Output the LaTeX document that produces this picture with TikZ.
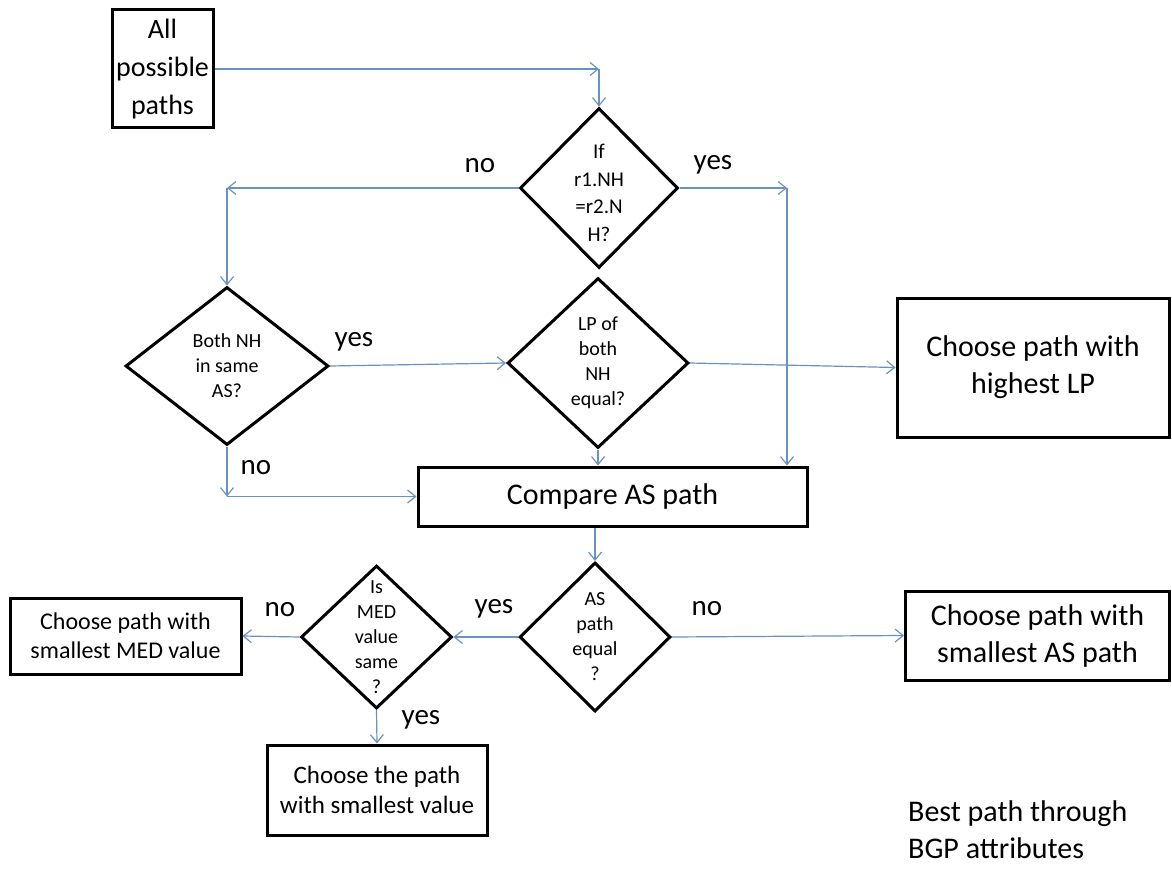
\documentclass[tikz,border=0pt]{standalone}
\usepackage{fontspec}
\setmainfont{Carlito}
\usetikzlibrary{shapes.geometric,arrows.meta}
\definecolor{conn}{RGB}{104,146,192}
\newcommand{\fsz}[2]{\fontsize{#1}{#2}\selectfont}

\begin{document}
\begin{tikzpicture}[x=1pt,y=-1pt,
  box/.style={draw=black, line width=3pt, rectangle, inner sep=0pt, align=center},
  dec/.style={draw=black, line width=3pt, diamond, inner sep=0pt},
  dectext/.style={font=\fsz{20}{25}, align=center},
  arr/.style={draw=conn, line width=1.2pt, -{Straight Barb[length=8pt,width=13pt]}},
  lbl/.style={font=\fsz{29}{35}},
]
\useasboundingbox (0,0) rectangle (1172,869);

% process boxes
\node[box, minimum width=101pt, minimum height=118pt, font=\fsz{28}{38}] (all) at (162.5,69) {All\\possible\\paths};
\node[box, minimum width=389pt, minimum height=59pt, font=\fsz{30}{36}] (cmp) at (612.5,496.5) {Compare AS path};
\node[box, minimum width=272pt, minimum height=139pt, font=\fsz{30}{37}] (hlp) at (1033,367.5) {Choose path with\\highest LP};
\node[box, minimum width=231pt, minimum height=76pt, font=\fsz{24}{29}] (med) at (125.5,636) {Choose path with\\smallest MED value};
\node[box, minimum width=264pt, minimum height=89pt, font=\fsz{30}{37}] (sas) at (1037.5,635.5) {Choose path with\\smallest AS path};
\node[box, minimum width=220pt, minimum height=90pt, font=\fsz{25}{30}] (sv) at (377,790) {Choose the path\\with smallest value};

% decisions
\node[dec, minimum width=158pt, minimum height=160pt,
  label={[dectext, font=\fsz{21}{27.5}, yshift=-5pt]center:{If\\r1.NH\\=r2.N\\H?}}] (d1) at (599,188) {};
\node[dec, minimum width=203pt, minimum height=158pt,
  label={[dectext]center:{Both NH\\in same\\AS?}}] (d2) at (227,366) {};
\node[dec, minimum width=181pt, minimum height=170pt,
  label={[dectext]center:{LP of\\both\\NH\\equal?}}] (d3) at (598,363) {};
\node[dec, minimum width=151pt, minimum height=149pt,
  label={[dectext]center:{AS\\path\\equal\\?}}] (d4) at (595,637) {};
\node[dec, minimum width=151pt, minimum height=143pt,
  label={[dectext]center:{Is\\MED\\value\\same\\?}}] (d5) at (376.5,637) {};

% caption
\node[anchor=west, align=left, font=\fsz{30}{37}, inner sep=0pt] (note) at (908,830) {Best path through\\BGP attributes};

% branch labels
\node[lbl] (l1) at (480,166) {no};
\node[lbl] (l2) at (713,165) {yes};
\node[lbl] (l3) at (354,342) {yes};
\node[lbl] (l4) at (256,468) {no};
\node[lbl] (l5) at (494,609) {yes};
\node[lbl] (l6) at (280,610) {no};
\node[lbl] (l7) at (707,609) {no};
\node[lbl] (l8) at (421,720) {yes};

% corner points of the connectors
\coordinate (na) at (d1.north |- all.east);
\coordinate (nc) at (d2.north |- d1.west);
\coordinate (yc) at (787,188);
\coordinate (nb) at (d2.south |- cmp.west);

% connectors
\draw[arr] (all.east) -- (na);
\draw[arr] (na) -- (d1.north);
\draw[arr] (d1.west) -- (nc);
\draw[arr] (nc) -- (d2.north);
\draw[arr] (d1.east) -- (yc);
\draw[arr] (yc) -- (yc |- cmp.north);
\draw[arr] (d2.east) -- (d3.west);
\draw[arr] (d3.east) -- (hlp.west);
\draw[arr] (d3.south) -- (d3.south |- cmp.north);
\draw[arr] (d2.south) -- (nb);
\draw[arr] (nb) -- (cmp.west);
\draw[arr] (cmp.south -| d4.north) -- (d4.north);
\draw[arr] (d4.west) -- (d5.east);
\draw[arr] (d5.west) -- (med.east);
\draw[arr] (d4.east) -- (sas.west);
\draw[arr] (d5.south) -- (sv.north);
\end{tikzpicture}
\end{document}
